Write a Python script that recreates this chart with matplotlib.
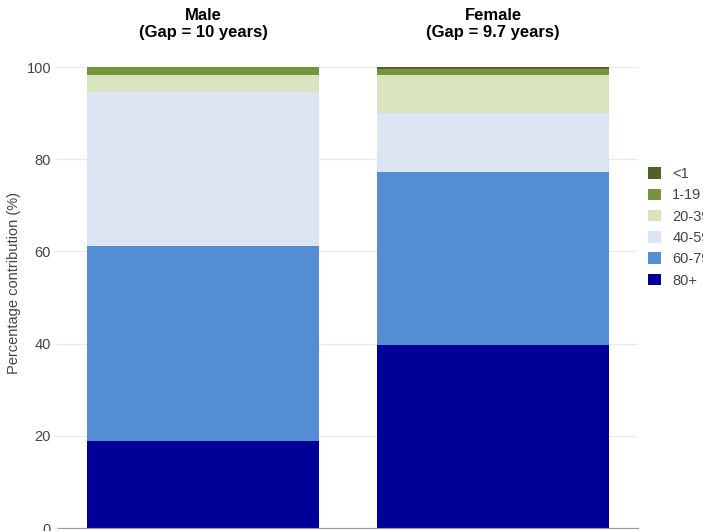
import matplotlib
matplotlib.use("Agg")
import matplotlib.pyplot as plt
import numpy as np

plt.rcParams['font.family'] = ['Liberation Sans', 'DejaVu Sans']

groups = ["Male", "Female"]
gap_labels = ["(Gap = 10 years)", "(Gap = 9.7 years)"]
age_bands = ["80+", "60-79", "40-59", "20-39", "1-19", "<1"]
contrib = {
    "80+":   [18.9, 39.7],
    "60-79": [42.3, 37.6],
    "40-59": [33.4, 12.8],
    "20-39": [3.7, 8.2],
    "1-19":  [1.6, 1.3],
    "<1":    [0.1, 0.4],
}
colors = {
    "80+": "#000099",
    "60-79": "#548dd4",
    "40-59": "#dce6f2",
    "20-39": "#d7e4bd",
    "1-19": "#77933c",
    "<1": "#4f6228",
}
yticks = [0, 20, 40, 60, 80, 100]

W, H = 703, 531
fig = plt.figure(figsize=(W/100, H/100), dpi=100)
ax = fig.add_axes([58/W, 3/H, 580/W, (528-67)/H])

x = np.arange(len(groups))
bottom = np.zeros(len(groups))
handles = {}
for band in age_bands:
    vals = np.array(contrib[band])
    h = ax.bar(x, vals, width=0.8, bottom=bottom, color=colors[band], linewidth=0, zorder=3)
    handles[band] = h
    bottom += vals

ax.set_xlim(-0.5, 1.5)
ax.set_ylim(0, 100)
ax.set_yticks(yticks)
ax.set_yticklabels([str(t) for t in yticks], fontsize=10.5, color="#444444")
ax.set_xticks([])
ax.grid(axis="y", color="#ebebeb", linewidth=1, zorder=0)
for s in ["top", "right", "left"]:
    ax.spines[s].set_visible(False)
ax.spines["bottom"].set_color("#999999")
ax.spines["bottom"].set_zorder(4)
ax.tick_params(axis="y", length=3, color="#ebebeb", pad=2)
ax.set_ylabel("Percentage contribution (%)", fontsize=10.5, color="#444444")
ax.yaxis.set_label_coords(-(58-21)/580, (528-283)/461)

for xi, g, gl in zip(x, groups, gap_labels):
    xf = ax.transData.transform((xi, 0))[0] / W
    fig.text(xf, 1 - 15/H, g, ha="center", va="center", fontsize=12, fontweight="bold", color="#000000")
    fig.text(xf, 1 - 33/H, gl, ha="center", va="center", fontsize=12, fontweight="bold", color="#000000")

order = ["<1", "1-19", "20-39", "40-59", "60-79", "80+"]
leg = fig.legend([handles[b] for b in order], order, loc="upper left",
                 bbox_to_anchor=(635/W, 1 - 154/H), frameon=False, fontsize=10.5,
                 handlelength=0.85, handleheight=0.85, handletextpad=0.8, labelspacing=0.5,
                 labelcolor="#444444")

fig.savefig("out.png", dpi=100)
